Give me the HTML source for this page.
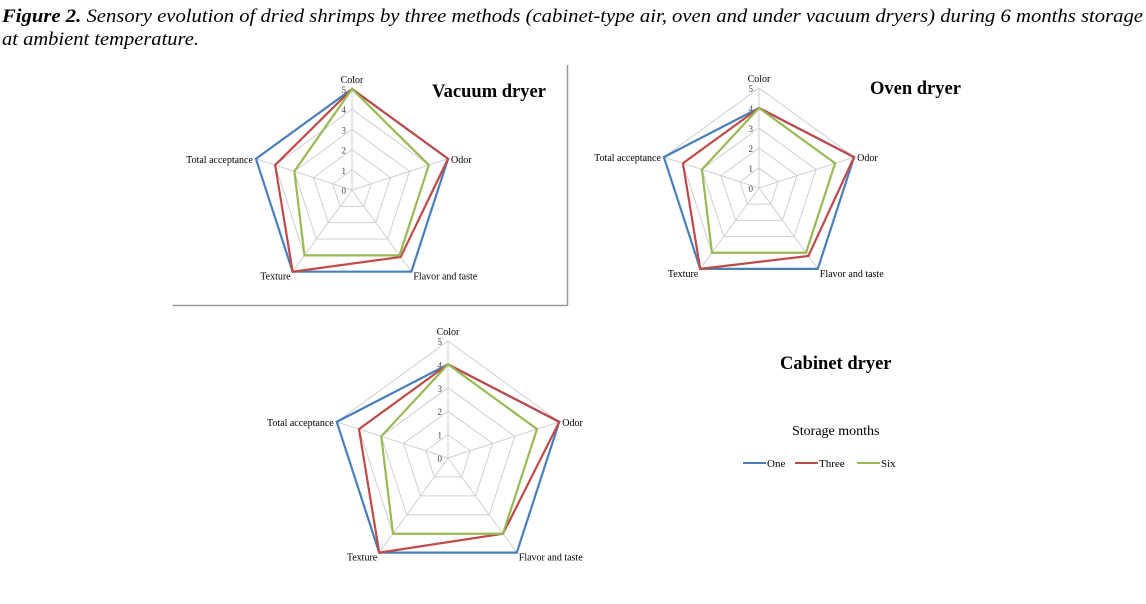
<!DOCTYPE html>
<html><head><meta charset="utf-8"><style>
html,body{margin:0;padding:0;background:#fff;width:1146px;height:604px;overflow:hidden}
svg{display:block}
</style></head><body>
<svg id="s" width="1146" height="604" xmlns="http://www.w3.org/2000/svg" font-family="Liberation Serif, serif">
<text x="2" y="22" font-size="18.5" font-style="italic" textLength="1141" lengthAdjust="spacingAndGlyphs"><tspan font-weight="bold">Figure 2.</tspan> Sensory evolution of dried shrimps by three methods (cabinet-type air, oven and under vacuum dryers) during 6 months storage</text>
<text x="2" y="45" font-size="18.5" font-style="italic" textLength="197" lengthAdjust="spacingAndGlyphs">at ambient temperature.</text>
<line x1="173" y1="305.5" x2="567" y2="305.5" stroke="#999" stroke-width="1.5"/>
<line x1="567.5" y1="65" x2="567.5" y2="306" stroke="#999" stroke-width="1.5"/>
<text x="432" y="97" font-size="18.5" font-weight="bold">Vacuum dryer</text>
<text x="870" y="94" font-size="18.5" font-weight="bold">Oven dryer</text>
<text x="780" y="369" font-size="18.5" font-weight="bold">Cabinet dryer</text>
<text x="792" y="435" font-size="14">Storage months</text>
<line x1="743" y1="463" x2="766" y2="463" stroke="#4a7ebb" stroke-width="2"/>
<text x="767" y="467" font-size="11">One</text>
<line x1="795" y1="463" x2="818" y2="463" stroke="#be4b48" stroke-width="2"/>
<text x="819" y="467" font-size="11">Three</text>
<line x1="857" y1="463" x2="880" y2="463" stroke="#98b954" stroke-width="2"/>
<text x="881" y="467" font-size="11">Six</text>
<g id="charts"></g>
</svg>
<script>
var g=document.getElementById('charts');var NS='http://www.w3.org/2000/svg';
function el(t,a,txt){var e=document.createElementNS(NS,t);for(var k in a)e.setAttribute(k,a[k]);if(txt)e.textContent=txt;g.appendChild(e);return e;}
function pt(cx,cy,R,i,v){var a=-Math.PI/2+i*2*Math.PI/5;return [cx+R*v/5*Math.cos(a),cy+R*v/5*Math.sin(a)];}
function chart(cx,cy,R,data,fs){
 for(var l=1;l<=5;l++){var p=[];for(var i=0;i<5;i++)p.push(pt(cx,cy,R,i,l).join(','));el('polygon',{points:p.join(' '),fill:'none',stroke:'#cfcfcf','stroke-width':1});}
 for(var i=0;i<5;i++){var q=pt(cx,cy,R,i,5);el('line',{x1:cx,y1:cy,x2:q[0],y2:q[1],stroke:'#cfcfcf','stroke-width':1});}
 for(var l=0;l<=5;l++){el('text',{x:cx-6,y:cy-R*l/5+4,'font-size':fs-1,'text-anchor':'end',fill:'#444'},String(l));}
 var cols=['#4a7ebb','#be4b48','#98b954'];
 data.forEach(function(d,j){var p=[];for(var i=0;i<5;i++)p.push(pt(cx,cy,R,i,d[i]).join(','));el('polygon',{points:p.join(' '),fill:'none',stroke:cols[j],'stroke-width':2.2,'stroke-linejoin':'miter'});});
 var t=pt(cx,cy,R,0,5);el('text',{x:t[0],y:t[1]-6,'font-size':fs,'text-anchor':'middle'},'Color');
 t=pt(cx,cy,R,1,5);el('text',{x:t[0]+3,y:t[1]+4,'font-size':fs},'Odor');
 t=pt(cx,cy,R,2,5);el('text',{x:t[0]+2,y:t[1]+8,'font-size':fs},'Flavor and taste');
 t=pt(cx,cy,R,3,5);el('text',{x:t[0]-2,y:t[1]+8,'font-size':fs,'text-anchor':'end'},'Texture');
 t=pt(cx,cy,R,4,5);el('text',{x:t[0]-3,y:t[1]+4,'font-size':fs,'text-anchor':'end'},'Total acceptance');
}
chart(352,190,101,[[5,5,5,5,5],[5,5,4.1,5,4],[5,4,4,4,3]],10);
chart(759,188,100,[[4,5,5,5,5],[4,5,4.2,5,4],[4,4,4,4,3]],10);
chart(448,458,117,[[4,5,5,5,5],[4,5,4,5,4],[4,4,4,4,3]],10);
</script>
</body></html>
